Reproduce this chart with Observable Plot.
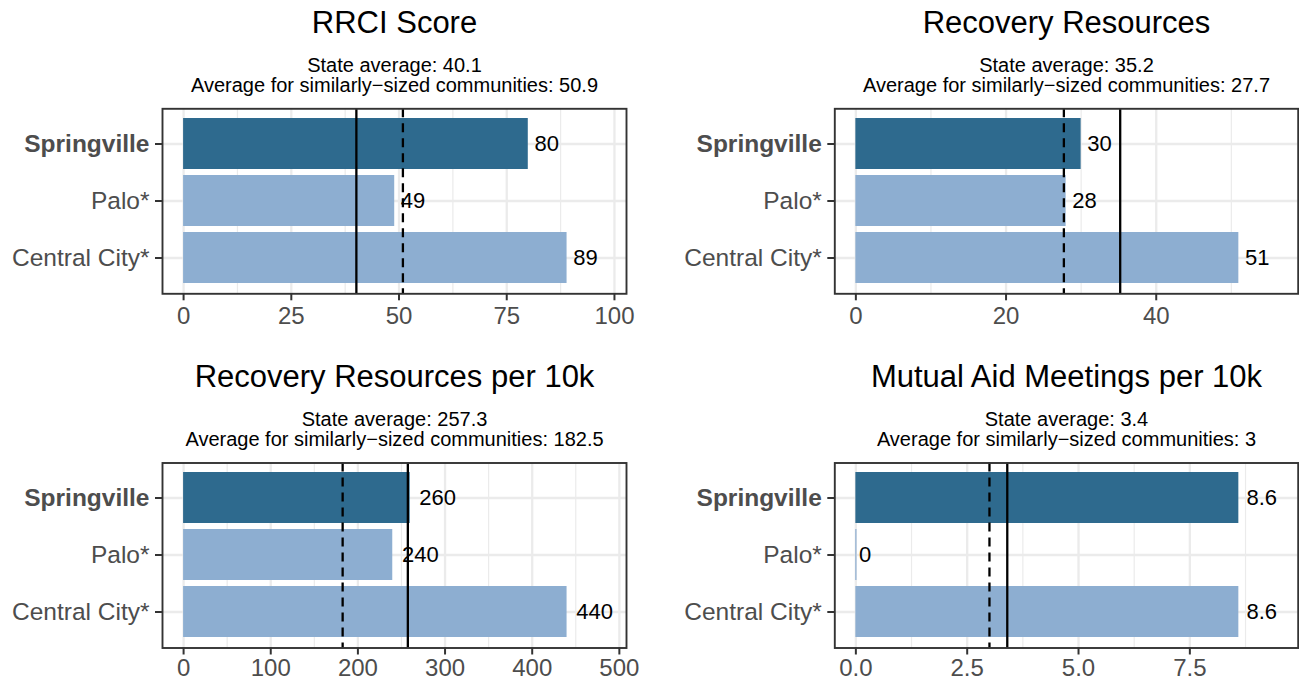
<!DOCTYPE html>
<html>
<head>
<meta charset="utf-8">
<script src="https://cdn.jsdelivr.net/npm/d3@7"></script>
<script src="https://cdn.jsdelivr.net/npm/@observablehq/plot@0.6"></script>
<style>
  html, body { margin: 0; padding: 0; background: #ffffff; }
  #root { position: relative; width: 1299px; height: 683px; overflow: hidden; background: #fff; }
  .panel { position: absolute; }
  .panel svg { overflow: visible; }
</style>
</head>
<body>
<div id="root"></div>
<script>
// ---------- data ----------
const categories = ["Springville", "Palo*", "Central City*"];
const highlight = "Springville";

const panelTitles = ["RRCI Score", "Recovery Resources", "Recovery Resources per 10k", "Mutual Aid Meetings per 10k"];

const rrciValues = [80, 49, 89];
const resourcesValues = [30, 28, 51];
const resourcesPer10kValues = [260, 240, 440];
const meetingsPer10kValues = [8.6, 0, 8.6];

const rrciLabels = ["80", "49", "89"];
const resourcesLabels = ["30", "28", "51"];
const resourcesPer10kLabels = ["260", "240", "440"];
const meetingsPer10kLabels = ["8.6", "0", "8.6"];

const stateAverages = [40.1, 35.2, 257.3, 3.4];
const similarAverages = [50.9, 27.7, 182.5, 3];

const rrciTicks = [0, 25, 50, 75, 100];
const rrciTickLabels = ["0", "25", "50", "75", "100"];
const rrciMinor = [12.5, 37.5, 62.5, 87.5];
const resourcesTicks = [0, 20, 40];
const resourcesTickLabels = ["0", "20", "40"];
const resourcesMinor = [10, 30, 50];
const resourcesPer10kTicks = [0, 100, 200, 300, 400, 500];
const resourcesPer10kTickLabels = ["0", "100", "200", "300", "400", "500"];
const resourcesPer10kMinor = [50, 150, 250, 350, 450];
const meetingsTicks = [0, 2.5, 5, 7.5];
const meetingsTickLabels = ["0.0", "2.5", "5.0", "7.5"];
const meetingsMinor = [1.25, 3.75, 6.25, 8.75];

// ---------- style ----------
const FONT = "Liberation Sans, Arial, Helvetica, sans-serif";
const DARK = "#2E6A8E";
const LIGHT = "#8DAED1";
const GRID = "#EBEBEB";
const AXIS_TEXT = "#4D4D4D";
const AXIS_LINE = "#333333";

const panels = [
  {title: panelTitles[0], values: rrciValues, labels: rrciLabels, state: stateAverages[0], similar: similarAverages[0],
   ticks: rrciTicks, tickLabels: rrciTickLabels, minor: rrciMinor, tickPad: 6,
   left: 0, top: 0, width: 650, height: 340, mLeft: 162, mRight: 24, mTop: 108.3, mBottom: 46.7},
  {title: panelTitles[1], values: resourcesValues, labels: resourcesLabels, state: stateAverages[1], similar: similarAverages[1],
   ticks: resourcesTicks, tickLabels: resourcesTickLabels, minor: resourcesMinor, tickPad: 6,
   left: 650, top: 0, width: 649, height: 340, mLeft: 184.3, mRight: 1.3, mTop: 108.3, mBottom: 46.7},
  {title: panelTitles[2], values: resourcesPer10kValues, labels: resourcesPer10kLabels, state: stateAverages[2], similar: similarAverages[2],
   ticks: resourcesPer10kTicks, tickLabels: resourcesPer10kTickLabels, minor: resourcesPer10kMinor, tickPad: 4,
   left: 0, top: 340, width: 650, height: 343, mLeft: 162, mRight: 24, mTop: 122.5, mBottom: 35.5},
  {title: panelTitles[3], values: meetingsPer10kValues, labels: meetingsPer10kLabels, state: stateAverages[3], similar: similarAverages[3],
   ticks: meetingsTicks, tickLabels: meetingsTickLabels, minor: meetingsMinor, tickPad: 4,
   left: 650, top: 340, width: 649, height: 343, mLeft: 184.3, mRight: 1.3, mTop: 122.5, mBottom: 35.5}
];

function textWidthEm(s) {
  let w = 0;
  for (const c of s) w += (c === ".") ? 0.278 : 0.556;
  return w;
}

const root = document.getElementById("root");

panels.forEach(p => {
  const rows = categories.map((name, i) => ({name, value: p.values[i], label: p.labels[i]}));
  const maxV = d3.max(p.values) * 1.1;
  const domain = [-0.05 * maxV, 1.05 * maxV];
  const others = categories.filter(c => c !== highlight);
  const VAL_FS = 22;

  const labelMarks = rows.map(r =>
    Plot.text([r], {x: "value", y: "name", text: "label", textAnchor: "start",
      dx: 0.25 * textWidthEm(r.label) * VAL_FS, fontSize: VAL_FS, fill: "#000", fontFamily: FONT})
  );

  const axisCommon = {tickSize: 7, tickPadding: 6, stroke: AXIS_LINE, strokeWidth: 2,
    fill: AXIS_TEXT, fontSize: 24.5, fontFamily: FONT, label: null};

  const subtitle = `State average: ${p.state}\nAverage for similarly\u2212sized communities: ${p.similar}`;

  const chart = Plot.plot({
    width: p.width,
    height: p.height,
    marginLeft: p.mLeft,
    marginRight: p.mRight,
    marginTop: p.mTop,
    marginBottom: p.mBottom,
    style: {fontFamily: FONT, background: "transparent", overflow: "visible"},
    x: {domain, axis: null},
    y: {domain: categories, type: "band", paddingInner: 0.1, paddingOuter: 0.15, axis: null},
    marks: [
      Plot.gridX(p.minor, {stroke: GRID, strokeOpacity: 1, strokeWidth: 1.2}),
      Plot.gridX(p.ticks, {stroke: GRID, strokeOpacity: 1, strokeWidth: 2.3}),
      Plot.gridY(categories, {stroke: GRID, strokeOpacity: 1, strokeWidth: 2.3}),
      Plot.barX(rows.filter(r => r.name === highlight), {x: "value", y: "name", fill: DARK}),
      Plot.barX(rows.filter(r => r.name !== highlight), {x: "value", y: "name", fill: LIGHT}),
      Plot.tickX(rows.filter(r => r.value === 0), {x: "value", y: "name", stroke: LIGHT, strokeWidth: 1.2}),
      Plot.ruleX([p.similar], {stroke: "#000", strokeWidth: 2.3, strokeDasharray: "9,6"}),
      Plot.ruleX([p.state], {stroke: "#000", strokeWidth: 2.3}),
      ...labelMarks,
      Plot.frame({stroke: AXIS_LINE, strokeWidth: 1.9}),
      Plot.axisX(p.ticks, {...axisCommon, tickPadding: p.tickPad, fontSize: 24,
        tickFormat: v => p.tickLabels[p.ticks.indexOf(v)]}),
      Plot.axisY([highlight], {...axisCommon, fontWeight: "bold"}),
      Plot.axisY(others, {...axisCommon}),
      Plot.text([p.title], {frameAnchor: "top", dy: -76.3, lineAnchor: "bottom",
        fontSize: 31, fill: "#000", fontFamily: FONT}),
      Plot.text([subtitle], {frameAnchor: "top", dy: -17, lineAnchor: "bottom", lineHeight: 1.0,
        fontSize: 20, fill: "#000", fontFamily: FONT})
    ]
  });

  const div = document.createElement("div");
  div.className = "panel";
  div.style.left = p.left + "px";
  div.style.top = p.top + "px";
  div.appendChild(chart);
  root.appendChild(div);
});
</script>
</body>
</html>
